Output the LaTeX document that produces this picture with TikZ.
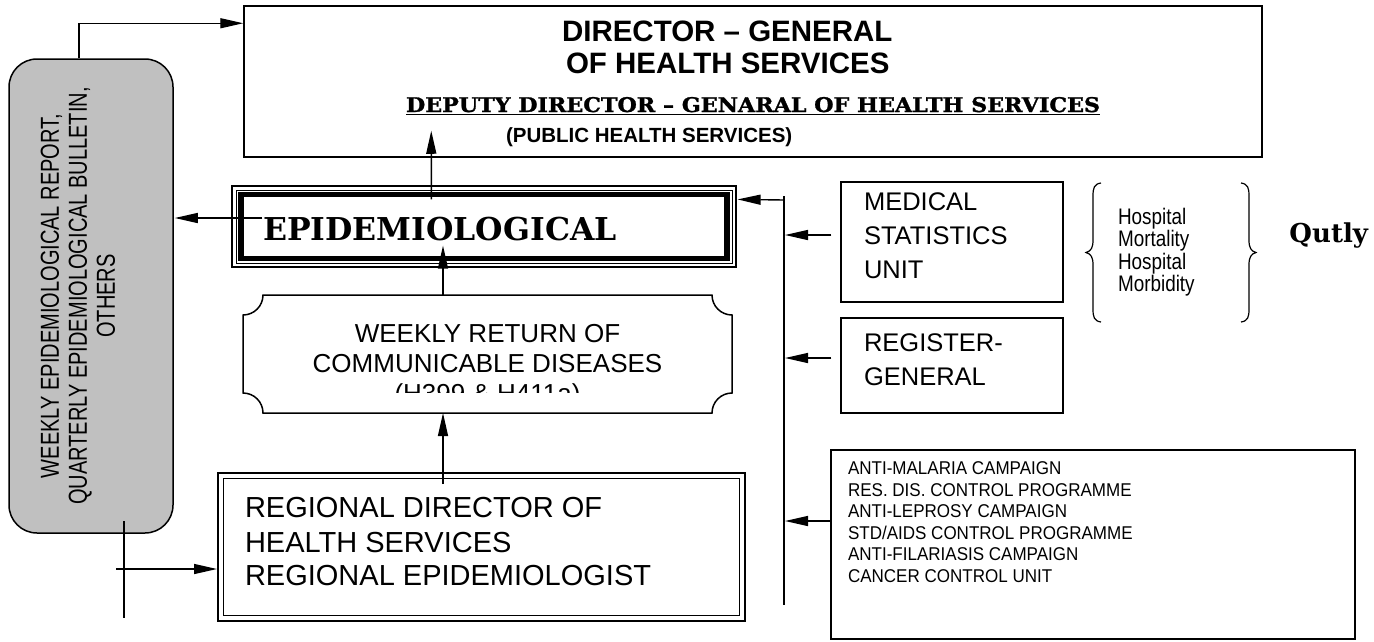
\documentclass[tikz,border=0pt]{standalone}
\usepackage{fontspec}
\setmainfont{Liberation Sans}
\newfontfamily\serifbf{DejaVu Serif}
\newfontfamily\serifheavy{DejaVu Serif}[BoldFeatures={FakeBold=1.3}]
\newfontfamily\grayfont{Liberation Sans}[FakeStretch=0.77]
\newfontfamily\narrowfont{Liberation Sans}[FakeStretch=0.84]
\newfontfamily\progfont{Liberation Sans}[FakeStretch=0.92]
\usetikzlibrary{arrows.meta,calc}
\definecolor{grayfill}{RGB}{192,192,192}
\tikzset{
  box/.style={draw, line width=1.5pt, inner sep=0pt},
  arr/.style={line width=1.4pt, -{Triangle[length=23pt,width=10pt]}},
  plain/.style={line width=1.4pt},
  txt/.style={inner sep=0pt, outer sep=0pt},
}
\begin{document}
\begin{tikzpicture}[x=1pt,y=-1pt]
\useasboundingbox (0,0) rectangle (1374,641);
% ---------- boxes ----------
\node[box, minimum width=1018pt, minimum height=151pt] (dir) at (753,81.5) {};
\node[draw, fill=grayfill, rounded corners=28pt, line width=1.5pt, inner sep=0pt,
      minimum width=164pt, minimum height=474pt] (gray) at (91,296) {};
\node[box, line width=1.2pt, minimum width=504pt, minimum height=81pt] (epi) at (484,226.5) {};
\node[box, line width=1pt, minimum width=496pt, minimum height=73pt] (epib) at (484,226.5) {};
\node[box, line width=5.5pt, minimum width=486pt, minimum height=64pt] (epic) at (484,226.5) {};
\node[txt, minimum width=489pt, minimum height=118pt] (weekly) at (487.5,354) {};
\draw[line width=1.5pt] (263,295) -- (712,295) arc[start angle=180,end angle=90,radius=20]
  -- (732,393) arc[start angle=270,end angle=180,radius=20]
  -- (263,413) arc[start angle=360,end angle=270,radius=20]
  -- (243,315) arc[start angle=90,end angle=0,radius=20] -- cycle;
\node[box, line width=2pt, minimum width=527pt, minimum height=148pt] (reg) at (481.5,547) {};
\node[box, line width=1.5pt, minimum width=516pt, minimum height=137pt] (regb) at (481.5,547) {};
\node[box, minimum width=222pt, minimum height=120pt] (med) at (952,242) {};
\node[box, minimum width=222pt, minimum height=95pt] (rg) at (952,365.5) {};
\node[box, minimum width=524pt, minimum height=189pt] (prog) at (1093,544.5) {};
% ---------- texts ----------
\node[txt, anchor=base west, font=\bfseries\fontsize{29.5}{30}\selectfont] (t1) at (562,41) {DIRECTOR – GENERAL};
\node[txt, anchor=base west, font=\bfseries\fontsize{29.5}{30}\selectfont] (t2) at (566,73) {OF HEALTH SERVICES};
\node[txt, anchor=base west] (t3) at (406,112) {\resizebox{694pt}{15pt}{\serifheavy\bfseries\fontsize{20}{20}\selectfont\underline{DEPUTY DIRECTOR – GENARAL OF HEALTH SERVICES}}};
\node[txt, anchor=base west, font=\bfseries\fontsize{20.5}{21}\selectfont] (t4) at (506,142) {(PUBLIC HEALTH SERVICES)};
\node[txt, anchor=base west, font=\serifbf\bfseries\fontsize{31.5}{32}\selectfont] (te) at (263,240) {EPIDEMIOLOGICAL};
\node[txt, anchor=base, font=\fontsize{26}{30}\selectfont] (w1) at (487.5,342) {WEEKLY RETURN OF};
\node[txt, anchor=base, font=\fontsize{26}{30}\selectfont] (w2) at (487.5,372) {COMMUNICABLE DISEASES};
\begin{scope}
\clip (250,300) rectangle (725,392);
\node[txt, anchor=base, font=\fontsize{26}{30}\selectfont] (w3) at (487.5,402) {(H399 \& H411a)};
\end{scope}
\node[txt, anchor=base west, font=\fontsize{29}{34}\selectfont] (r1) at (245,517) {REGIONAL DIRECTOR OF};
\node[txt, anchor=base west, font=\fontsize{29}{34}\selectfont] (r2) at (245,552) {HEALTH SERVICES};
\node[txt, anchor=base west, font=\fontsize{29}{34}\selectfont] (r3) at (245,585) {REGIONAL EPIDEMIOLOGIST};
\node[txt, anchor=base west, font=\fontsize{25.5}{30}\selectfont] (m1) at (864,210) {MEDICAL};
\node[txt, anchor=base west, font=\fontsize{25.5}{30}\selectfont] (m2) at (864,244) {STATISTICS};
\node[txt, anchor=base west, font=\fontsize{25.5}{30}\selectfont] (m3) at (864,278) {UNIT};
\node[txt, anchor=base west, font=\fontsize{25.5}{30}\selectfont] (g1) at (864,351) {REGISTER-};
\node[txt, anchor=base west, font=\fontsize{25.5}{30}\selectfont] (g2) at (864,385) {GENERAL};
\node[txt, anchor=north west, align=left, font=\progfont\fontsize{18.5}{21.5}\selectfont] (pt) at (848,462)
  {ANTI-MALARIA CAMPAIGN\\RES. DIS. CONTROL PROGRAMME\\ANTI-LEPROSY CAMPAIGN\\STD/AIDS CONTROL PROGRAMME\\ANTI-FILARIASIS CAMPAIGN\\CANCER CONTROL UNIT};
\node[txt, anchor=west, align=left, font=\narrowfont\fontsize{22.5}{22.5}\selectfont] (ht) at (1118,252)
  {Hospital\\Mortality\\Hospital\\Morbidity};
\node[txt, anchor=base east, font=\serifbf\bfseries\fontsize{26}{26}\selectfont] (q) at (1368,242) {Qutly};
\node[txt, rotate=90, align=center, font=\grayfont\fontsize{26}{28}\selectfont] (gt) at (78,296)
  {WEEKLY EPIDEMIOLOGICAL REPORT,\\QUARTERLY EPIDEMIOLOGICAL BULLETIN,\\OTHERS};
% ---------- braces ----------
\draw[line width=1.2pt] (1101,183) .. controls (1094,184) and (1093,188) .. (1093,196) -- (1093,240)
  .. controls (1093,248) and (1091,251) .. (1086,252.5) .. controls (1091,254) and (1093,257) .. (1093,265)
  -- (1093,309) .. controls (1093,317) and (1094,321) .. (1101,322);
\draw[line width=1.2pt] (1241,183) .. controls (1248,184) and (1249,188) .. (1249,196) -- (1249,240)
  .. controls (1249,248) and (1251,251) .. (1256,252.5) .. controls (1251,254) and (1249,257) .. (1249,265)
  -- (1249,309) .. controls (1249,317) and (1248,321) .. (1241,322);
% ---------- connectors ----------
\coordinate (bt) at (784,196);
\coordinate (bb) at (784,605);
\coordinate (lt) at (124,521);
\coordinate (lb) at (124,618);
\coordinate (ls) at (116,569);
\draw[arr] ($(gray.north)+(-12,0)$) |- ($(dir.north west)+(0,18)$);
\draw[arr] ($(epi.north west)+(200,14)$) -- ($(dir.south west)+(188,-27)$);
\draw[arr] ($(weekly.north)+(-44.5,0)$) -- ($(epi.south)+(-41,-22)$);
\draw[arr] ($(reg.north)+(-38.5,12)$) -- ($(weekly.south)+(-44.5,0)$);
\draw[arr] ($(epi.west)+(31,-8.5)$) -- ($(gray.east)+(1,-78)$);
\draw[plain] (bt) -- (bb);
\draw[arr] ($(bt)+(0,4)$) -- ($(epi.north east)+(1,14)$);
\draw[arr] ($(med.west)+(-9,-7)$) -- ($(med.west -| bt)+(1,-7)$);
\draw[arr] ($(rg.west)+(-9,-7.5)$) -- ($(rg.west -| bt)+(1,-7.5)$);
\draw[arr] ($(prog.west)+(0,-23.5)$) -- ($(prog.west -| bt)+(1,-23.5)$);
\draw[plain] (lt) -- (lb);
\draw[arr] (ls) -- (reg.west |- ls);
\end{tikzpicture}
\end{document}
